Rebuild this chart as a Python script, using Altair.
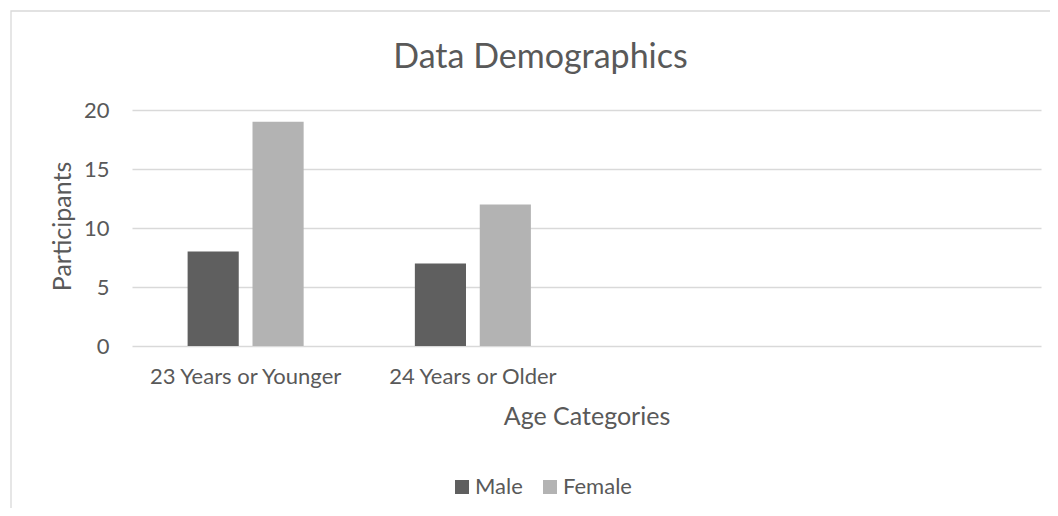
import altair as alt
import pandas as pd

# ---- data ----
categories = ["23 Years or Younger", "24 Years or Older", " ", "  "]
series = ["Male", "Female"]
male_values = [8, 7]
female_values = [19, 12]
y_ticks = [0, 5, 10, 15, 20]
colors = ["#5f5f5f", "#b3b3b3"]

rows = []
for cat, m, f in zip(categories, male_values, female_values):
    rows.append({"Age": cat, "Sex": "Male", "Participants": m})
    rows.append({"Age": cat, "Sex": "Female", "Participants": f})
df = pd.DataFrame(rows)

FONT = "Lato"
TXT = "#595959"
GRID = "#d9d9d9"

W, H = 909, 236
PAD_L, PAD_T = 124, 102

bars = alt.Chart(df).mark_bar().encode(
    x=alt.X(
        "Age:N",
        scale=alt.Scale(domain=categories, paddingInner=0, paddingOuter=0),
        axis=alt.Axis(
            title="Age Categories",
            labelAngle=0,
            labelLimit=0,
            ticks=False,
            tickSize=0,
            domain=False,
            labelPadding=20,
            labelFont=FONT,
            labelFontSize=22,
            labelColor=TXT,
            titleFont=FONT,
            titleFontSize=25,
            titleFontWeight="normal",
            titleColor=TXT,
            titleBaseline="middle",
            titleY=70,
        ),
        sort=categories,
    ),
    xOffset=alt.XOffset(
        "Sex:N",
        scale=alt.Scale(domain=series, paddingInner=0.212, paddingOuter=0.857),
    ),
    y=alt.Y(
        "Participants:Q",
        scale=alt.Scale(domain=[0, 20], nice=False),
        axis=alt.Axis(
            values=y_ticks,
            title="Participants",
            grid=True,
            gridColor=GRID,
            gridWidth=1.5,
            ticks=False,
            tickSize=0,
            domain=False,
            labelPadding=23,
            labelFont=FONT,
            labelFontSize=22,
            labelColor=TXT,
            titleFont=FONT,
            titleFontSize=25,
            titleFontWeight="normal",
            titleColor=TXT,
            titleBaseline="middle",
            titleX=-70,
            titleY=116,
        ),
    ),
    color=alt.Color(
        "Sex:N",
        scale=alt.Scale(domain=series, range=colors),
        legend=alt.Legend(
            title=None,
            orient="none",
            direction="horizontal",
            legendX=319,
            legendY=366,
            symbolType="square",
            symbolSize=196,
            symbolStrokeWidth=0,
            labelFont=FONT,
            labelFontSize=22,
            labelColor=TXT,
            labelOffset=2,
            columnPadding=16,
        ),
    ),
)

border = alt.Chart(pd.DataFrame({"b": [0]})).mark_rect(
    fill=None, stroke=GRID, strokeWidth=1.3
).encode(
    x=alt.value(-121),
    y=alt.value(-99),
    x2=alt.value(940),
    y2=alt.value(600),
)

chart = alt.layer(border, bars).properties(
    width=W,
    height=H,
    background="white",
    title=alt.TitleParams(
        "Data Demographics",
        font=FONT,
        fontSize=34,
        fontWeight="normal",
        color=TXT,
        anchor="middle",
        baseline="alphabetic",
        dx=-46,
        offset=0,
        dy=92,
    ),
    autosize=alt.AutoSizeParams(type="none"),
    padding={"left": PAD_L, "top": PAD_T, "right": 1042 - PAD_L - W, "bottom": 500 - PAD_T - H},
).configure_view(stroke=None)

chart.save("out.html", embed_options={"renderer": "svg", "actions": False})
